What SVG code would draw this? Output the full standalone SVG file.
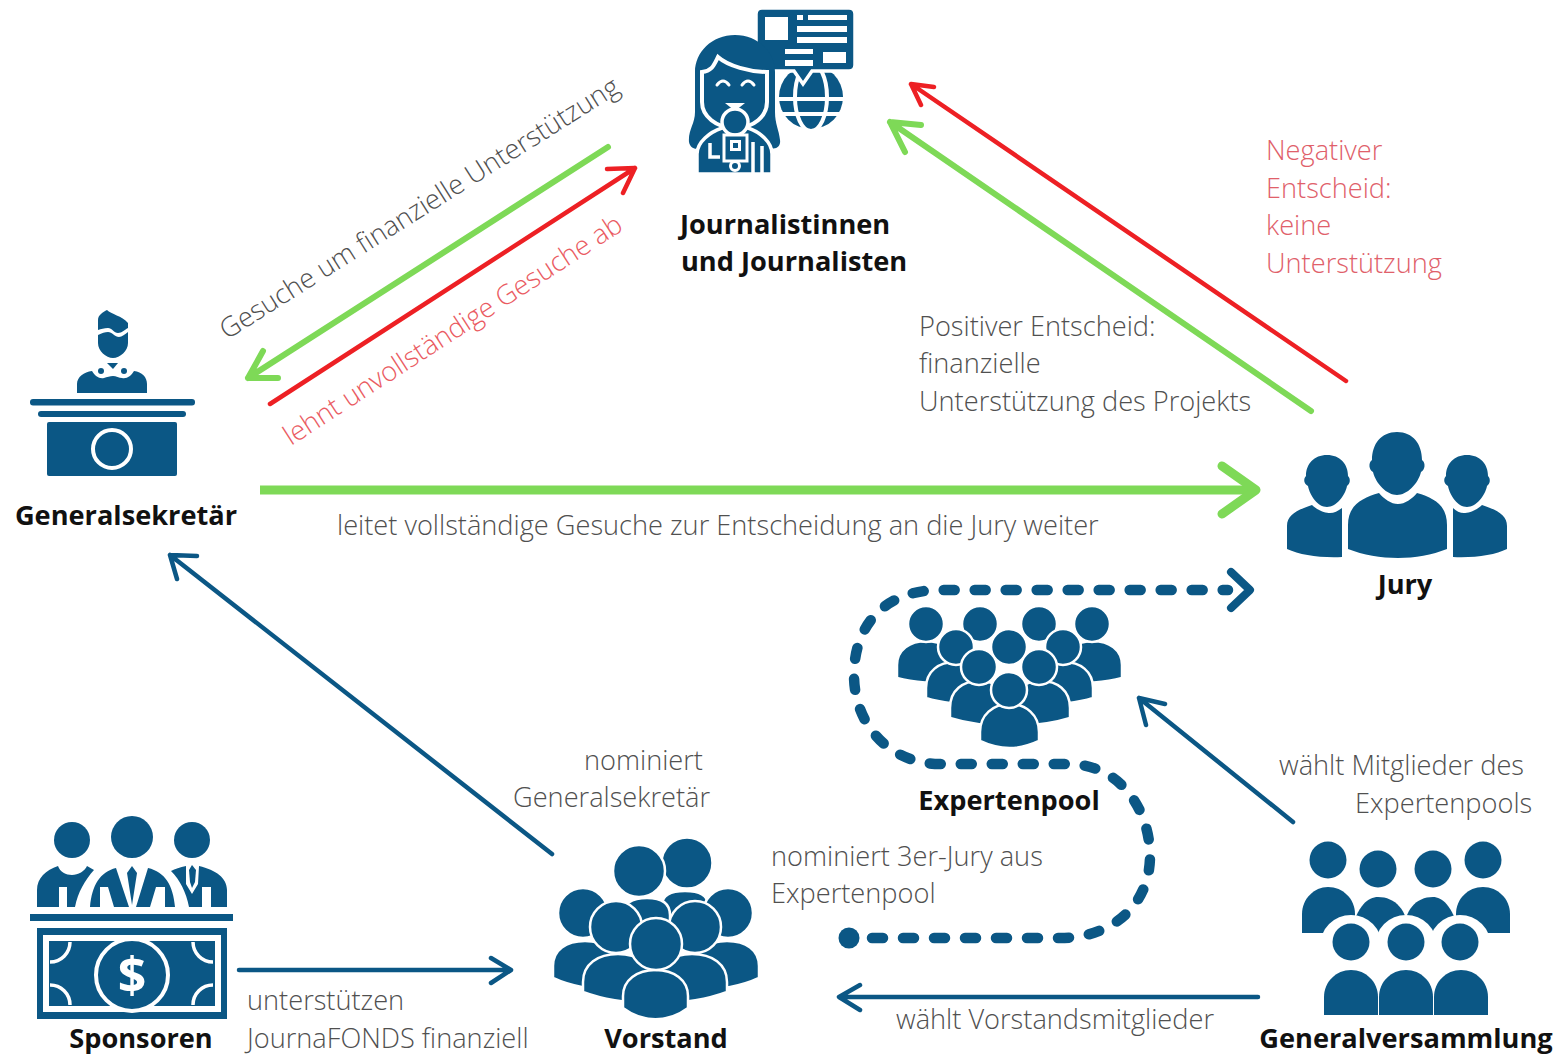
<svg xmlns="http://www.w3.org/2000/svg" width="1559" height="1059" viewBox="0 0 1559 1059">
<style>
.i{fill:#0b5785}
.w{fill:#fff}
.p{fill:#0b5785;stroke:#fff;stroke-width:2.5}
.t{font-family:"Open Sans",sans-serif;font-weight:300;font-size:27.2px;fill:#505050}
.r{fill:#e0606a}
.b{font-family:"Open Sans",sans-serif;font-weight:700;font-size:27.2px;fill:#111;text-anchor:middle}
.c{fill:none;stroke-linecap:round;stroke-linejoin:round}
.g{stroke:#7ed957;stroke-width:6}
.d{stroke:#ed2024;stroke-width:4.5}
.n{stroke:#0b5785;stroke-width:4.5}
</style>
<defs>
<clipPath id="billClip"><rect x="50" y="942" width="163" height="63"/></clipPath>
</defs>
<rect width="1559" height="1059" fill="#fff"/>

<g id="connectors">
<path class="c g" d="M608 147L248 378M278 378L248 378L263 351"/>
<path class="c d" d="M270 404L635 168M607 169L635 168L623 193"/>
<path class="c d" d="M1346 381L911 84M934 87L911 84L921 105"/>
<path class="c g" d="M1311 411L890 122M921 125L890 122L905 152"/>
<path class="c g" style="stroke-width:9;stroke-linecap:butt" d="M260 490L1254 490"/>
<path class="c g" style="stroke-width:9" d="M1222 466L1256 490L1222 514"/>
<path class="c n" d="M552 854L170 555M197 556L170 555L177 579"/>
<path class="c n" d="M239 970L510 970M491 958L511 970L491 983"/>
<path class="c n" d="M1258 997L840 997M860 985L839 997L860 1010"/>
<path class="c n" d="M1293 822L1139 698M1165 704L1139 698L1146 725"/>
<path class="c" style="stroke:#0b5785;stroke-width:10.5;stroke-dasharray:11 20" d="M872 938L1060 938C1112 938 1150 905 1150 856C1150 812 1122 764 1068 764L940 764C890 764 854 725 854 675C854 625 885 590 940 590L1228 590"/>
<circle cx="849" cy="938" r="10.5" fill="#0b5785"/>
<path class="c" style="stroke:#0b5785;stroke-width:8" d="M1231 572L1250 590L1231 608"/>
</g>

<g id="journalist">
<circle class="i" cx="811" cy="97" r="32"/>
<path d="M775 99H847M775 114H847" fill="none" stroke="#fff" stroke-width="4"/>
<ellipse cx="811" cy="97" rx="16" ry="34" fill="none" stroke="#fff" stroke-width="4"/>
<path class="i" stroke="#fff" stroke-width="3.500" d="M762 8H849Q855 8 855 14V65Q855 71 849 71H812L803 84L794 71H762Q756 71 756 65V14Q756 8 762 8Z"/>
<g class="w"><rect x="765" y="17" width="23" height="23"/><rect x="797" y="15" width="6" height="5"/><rect x="808" y="15" width="39" height="5"/><rect x="797" y="26" width="50" height="6"/><rect x="797" y="37" width="50" height="6"/><rect x="785" y="49" width="28" height="5"/><rect x="785" y="60" width="28" height="6"/><rect x="823" y="52" width="23" height="11"/></g>
<path class="i" d="M735 35C712 35 695 52 695 72V112C695 124 688 130 689 142C690 148 696 151 702 147L768 147C776 151 781 146 780 140C779 130 775 124 775 112V72C775 52 758 35 735 35Z"/>
<path class="i" stroke="#fff" stroke-width="4" d="M702 72C712 71 714 65 718 57C728 66 750 72 767 72V102C767 116 754 128 735 128C716 128 702 116 702 102Z"/>
<path d="M717 85Q723 77 729 85M742 85Q748 77 754 85" fill="none" stroke="#fff" stroke-width="3" stroke-linecap="round"/>
<path class="w" d="M725 103H745L735 111Z"/>
<path class="i" stroke="#fff" stroke-width="3.500" d="M697 174V154C697 142 710 132 722 128L748 128C760 132 772 142 772 154V174Z"/>
<circle class="i" stroke="#fff" stroke-width="3.500" cx="735" cy="122" r="13"/>
<rect x="724" y="135" width="23" height="26" fill="#0b5785" stroke="#fff" stroke-width="3"/>
<rect class="w" x="730" y="140" width="11" height="11"/><rect class="i" x="733" y="143" width="5" height="5"/>
<path d="M710 143V157H720M753 142V174M762 146V174" fill="none" stroke="#fff" stroke-width="3.500"/>
<circle class="i" stroke="#fff" stroke-width="3" cx="735" cy="166" r="4.500"/>
<text class="b" style="text-anchor:start" x="680" y="234">Journalistinnen</text>
<text class="b" style="text-anchor:start" x="681" y="271">und Journalisten</text>
</g>

<g id="generalsekretaer">
<path class="i" d="M98 329V320C98 315 103 312 107 310C111 314 122 316 128 323V328C124 330 122 333 118 333C114 333 112 328 108 328C104 328 101 329 98 330Z"/>
<path class="i" d="M98 335C102 333 105 332 108 332C112 332 115 337 119 337C122 337 125 334 128 332V343C128 351 120 358 113 358C106 358 98 351 98 343Z"/>
<path class="i" d="M77 393V384C77 377 84 372 92 371C95 376 99 379 104 378C107 377 110 376 113 376C116 376 119 378 122 378C127 379 131 376 134 371C142 372 147 377 147 384V393Z"/>
<path class="i" d="M107 363H118L113 369Z"/>
<circle class="i" cx="101" cy="371" r="3"/><circle class="i" cx="124" cy="371" r="3"/>
<rect class="i" x="30" y="399" width="165" height="6.500" rx="3"/>
<rect class="i" x="38" y="411" width="148" height="6" rx="3"/>
<rect class="i" x="47" y="422" width="130" height="54" rx="2"/>
<circle cx="112" cy="449" r="19" fill="#0b5785" stroke="#fff" stroke-width="4"/>
<text class="b" x="126" y="525">Generalsekretär</text>
</g>

<g id="jury">
<path class="i" d="M1287 549V526C1287 515 1297 510 1312 505C1318 511 1326 513 1330 513C1334 513 1338 511 1342 508V557C1320 558 1300 555 1287 549Z"/>
<path class="i" d="M1507 549V526C1507 515 1497 510 1482 505C1476 511 1468 513 1464 513C1460 513 1456 511 1453 508V557C1475 558 1495 555 1507 549Z"/>
<path class="i" d="M1327 455C1314 455 1306 464 1306 476C1303 479 1304 484 1308 486C1310 496 1318 507 1327 507C1336 507 1345 496 1347 486C1350 484 1351 479 1348 476C1348 464 1340 455 1327 455Z"/>
<path class="i" d="M1467 455C1454 455 1446 464 1446 476C1443 479 1444 484 1448 486C1450 496 1458 507 1467 507C1476 507 1485 496 1487 486C1490 484 1491 479 1488 476C1488 464 1480 455 1467 455Z"/>
<path class="i" d="M1348 549V525C1348 505 1362 498 1379 493C1384 499 1391 504 1398 504C1405 504 1412 499 1417 493C1434 498 1447 505 1447 525V549C1432 555 1415 558 1398 558C1381 558 1363 555 1348 549Z"/>
<path class="i" d="M1397 432C1381 432 1372 444 1372 460C1368 463 1369 470 1373 472C1376 484 1387 495 1397 495C1407 495 1418 484 1421 472C1425 470 1426 463 1422 460C1422 444 1413 432 1397 432Z"/>
<text class="b" x="1405" y="594">Jury</text>
</g>

<g id="expertenpool">
<path class="p" d="M897 678V665C897 650 910 641 926 641C942 641 955 650 955 665V683C935 683 915 683 897 678Z"/>
<path class="p" d="M1122 678V665C1122 650 1109 641 1093 641C1077 641 1064 650 1064 665V683C1084 683 1104 683 1122 678Z"/>
<path class="p" d="M926 698V688C926 671 939 662 955 662C971 662 985 671 985 688V705C965 705 945 704 926 698Z"/>
<path class="p" d="M1093 698V688C1093 671 1080 662 1064 662C1048 662 1034 671 1034 688V705C1054 705 1074 704 1093 698Z"/>
<path class="p" d="M950 718V708C950 690 963 681 979 681C995 681 1009 690 1009 708V726C989 726 969 724 950 718Z"/>
<path class="p" d="M1070 718V708C1070 690 1057 681 1041 681C1025 681 1011 690 1011 708V726C1031 726 1051 724 1070 718Z"/>
<g class="p">
<circle cx="926" cy="624" r="18"/><circle cx="980" cy="624" r="18"/><circle cx="1039" cy="624" r="18"/><circle cx="1092" cy="624" r="18"/>
<circle cx="956" cy="647" r="18"/><circle cx="1009" cy="647" r="18"/><circle cx="1063" cy="647" r="18"/>
<circle cx="979" cy="667" r="18"/><circle cx="1039" cy="667" r="18"/>
</g>
<path class="p" d="M980 741V732C980 715 993 704 1009.500 704C1026 704 1039 715 1039 732V741C1020 750 999 750 980 741Z"/>
<circle class="p" cx="1009" cy="690" r="18"/>
<text class="b" x="1009" y="810">Expertenpool</text>
</g>

<g id="sponsoren">
<circle class="i" cx="72" cy="840" r="18"/><circle class="i" cx="132" cy="837" r="21"/><circle class="i" cx="192" cy="840" r="18"/>
<path class="i" d="M37 907V890C37 878 46 870 58 866C60 872 66 875 72 875C78 875 85 871 87 866L94 870C85 880 78 892 75 907H67V887H59V907Z"/>
<path class="i" d="M90 907C92 885 100 872 116 868L129 907H114L108 887H100V907Z"/>
<path class="i" d="M175 907C173 885 165 872 148 868L136 907H150L156 887H165V907Z"/>
<path class="i" d="M132 866L127 873L132 905L137 873Z"/>
<path class="i" d="M227 907V890C227 878 216 870 199 866L198 884L192 894L186 884L186 866C180 867 175 869 171 871C180 880 186 892 189 907H202V887H211V907Z"/>
<path class="i" d="M192 865L189 870L190 882L192 888L195 882L196 870Z"/>
<rect class="i" x="30" y="914" width="203" height="7"/>
<rect class="i" x="37" y="928" width="190" height="91"/>
<rect x="46" y="938" width="172" height="71" fill="#0b5785" stroke="#fff" stroke-width="6"/>
<g clip-path="url(#billClip)" fill="none" stroke="#fff" stroke-width="3.500">
<circle cx="50" cy="942" r="20"/><circle cx="213" cy="942" r="20"/><circle cx="50" cy="1005" r="20"/><circle cx="213" cy="1005" r="20"/>
</g>
<circle cx="132" cy="975" r="36" fill="#0b5785" stroke="#fff" stroke-width="4"/>
<text x="132" y="993" font-family="'Open Sans',sans-serif" font-weight="700" font-size="50" fill="#fff" text-anchor="middle">$</text>
<text class="b" x="141" y="1048">Sponsoren</text>
</g>

<g id="vorstand">
<path class="p" d="M662 920V905C662 896 670 891 685 891C700 891 708 896 708 905V920Z"/>
<circle class="p" cx="687" cy="863" r="25.500"/>
<path class="p" d="M622 935V915C622 904 632 898 647 898C662 898 670 904 670 915V935Z"/>
<circle class="p" cx="639" cy="871" r="26"/>
<circle class="p" cx="583" cy="913" r="25"/><circle class="p" cx="728" cy="913" r="25"/>
<path class="p" d="M553 978V966C553 950 566 941 585 941C604 941 617 950 617 966V990C595 990 572 987 553 978Z"/>
<path class="p" d="M759 978V966C759 950 746 941 727 941C708 941 695 950 695 966V990C717 990 740 987 759 978Z"/>
<path class="p" d="M583 992V982C583 964 598 954 618 954C638 954 652 964 652 982V1003C628 1003 604 1000 583 992Z"/>
<path class="p" d="M727 992V982C727 964 712 954 692 954C672 954 658 964 658 982V1003C682 1003 706 1000 727 992Z"/>
<circle class="p" cx="616" cy="927" r="26"/><circle class="p" cx="695" cy="927" r="26"/>
<path class="p" d="M623 1008V996C623 980 637 970 655.500 970C674 970 688 980 688 996V1008C668 1023 643 1023 623 1008Z"/>
<circle class="p" cx="656" cy="944" r="26"/>
<text class="b" x="666" y="1048">Vorstand</text>
</g>

<g id="generalversammlung">
<circle class="i" cx="1328" cy="860" r="18.500"/><circle class="i" cx="1378" cy="869" r="18.500"/><circle class="i" cx="1433" cy="869" r="18.500"/><circle class="i" cx="1483" cy="860" r="18.500"/>
<path class="i" d="M1350 933C1358 905 1368 897 1378 897C1395 897 1408 910 1408 933L1405 950H1360Z"/>
<path class="i" d="M1460 933C1452 905 1442 897 1433 897C1416 897 1404 910 1404 933L1407 950H1450Z"/>
<path class="i" d="M1302 933V914C1302 899 1314 887 1328 887C1343 887 1355 899 1355 914V933Z"/>
<path class="i" d="M1510 933V914C1510 899 1498 887 1483 887C1468 887 1456 899 1456 914V933Z"/>
<g class="w"><circle cx="1351" cy="946" r="31"/><circle cx="1406" cy="946" r="31"/><circle cx="1460" cy="946" r="31"/></g>
<circle class="i" cx="1351" cy="942" r="18.500"/><circle class="i" cx="1406" cy="942" r="18.500"/><circle class="i" cx="1460" cy="942" r="18.500"/>
<path class="i" d="M1324 1015V997C1324 982 1336 970 1351 970C1366 970 1378 982 1378 997V1015Z"/>
<path class="i" d="M1379 1015V997C1379 982 1391 970 1406 970C1421 970 1433 982 1433 997V1015Z"/>
<path class="i" d="M1434 1015V997C1434 982 1446 970 1461 970C1476 970 1488 982 1488 997V1015Z"/>
<text class="b" x="1406" y="1048">Generalversammlung</text>
</g>

<g id="labels">
<text class="t" transform="translate(227 340) rotate(-32.200)">Gesuche um finanzielle Unterstützung</text>
<text class="t" style="fill:#ea5b62" transform="translate(291 446) rotate(-33)">lehnt unvollständige Gesuche ab</text>
<text class="t r"><tspan x="1266" y="160">Negativer</tspan><tspan x="1266" y="198">Entscheid:</tspan><tspan x="1266" y="235">keine</tspan><tspan x="1266" y="273">Unterstützung</tspan></text>
<text class="t"><tspan x="919" y="336">Positiver Entscheid:</tspan><tspan x="919" y="373">finanzielle</tspan><tspan x="919" y="411">Unterstützung des Projekts</tspan></text>
<text class="t" x="337" y="535">leitet vollständige Gesuche zur Entscheidung an die Jury weiter</text>
<text class="t" x="584" y="770">nominiert</text>
<text class="t" x="513" y="807">Generalsekretär</text>
<text class="t"><tspan x="771" y="866">nominiert 3er-Jury aus</tspan><tspan x="771" y="903">Expertenpool</tspan></text>
<text class="t" x="1279" y="775">wählt Mitglieder des</text>
<text class="t" x="1355" y="813">Expertenpools</text>
<text class="t" x="896" y="1029">wählt Vorstandsmitglieder</text>
<text class="t"><tspan x="247" y="1010">unterstützen</tspan><tspan x="247" y="1048">JournaFONDS finanziell</tspan></text>
</g>
</svg>
